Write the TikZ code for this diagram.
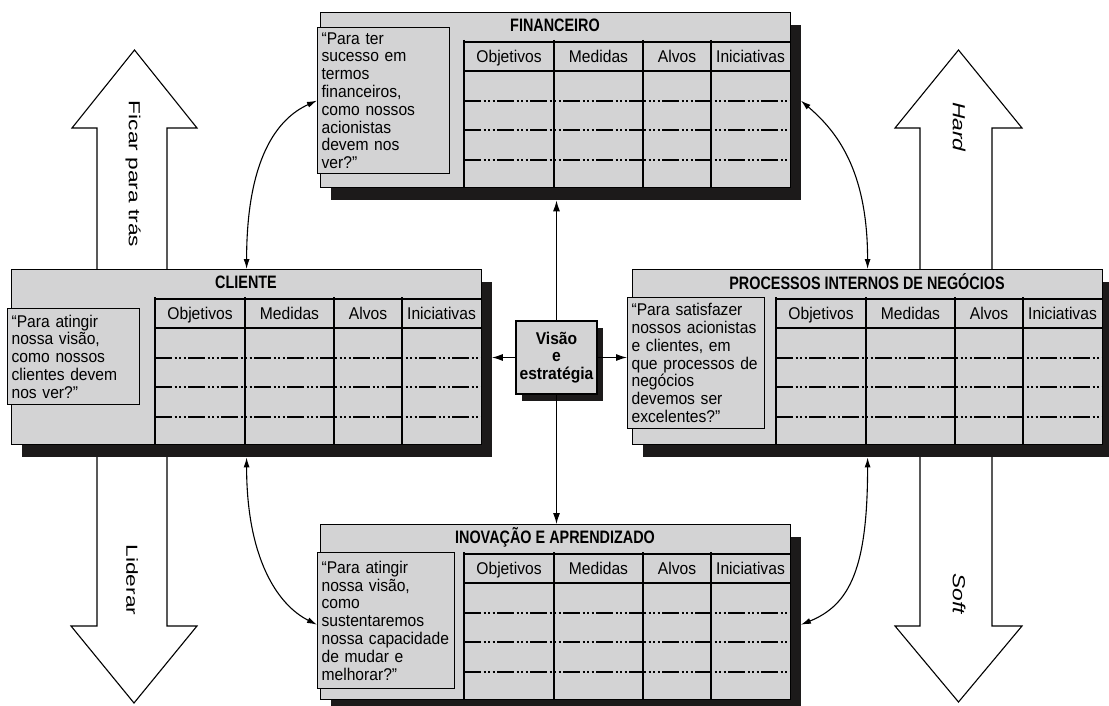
\documentclass[tikz,border=0pt]{standalone}
\usepackage{fontspec}
\setmainfont{Liberation Sans}[FakeStretch=0.92]
\newfontfamily\titlefont{Liberation Sans}[FakeStretch=0.8]
\newfontfamily\sidefont{Liberation Sans}[FakeStretch=1.42]
\newfontfamily\slantfont{Liberation Sans}[FakeStretch=1.3]
\usetikzlibrary{arrows.meta,calc}

\definecolor{panelgray}{RGB}{211,211,212}
\definecolor{shadowink}{RGB}{28,26,26}

\tikzset{
  panelbox/.style={draw, line width=1.2pt, fill=panelgray, minimum width=470,
    minimum height=175, inner sep=0pt, anchor=north west},
  panelshadow/.style={fill=shadowink, minimum width=470, minimum height=175,
    inner sep=0pt, anchor=north west},
  titletext/.style={font=\titlefont\fontsize{18}{20}\selectfont\bfseries, inner sep=0pt},
  bodytext/.style={font=\fontsize{17}{17.8}\selectfont},
  headtext/.style={bodytext, inner sep=0pt, anchor=base},
  question/.style={bodytext, draw, line width=1.2pt, fill=panelgray,
    anchor=north west, align=left, inner xsep=4pt, inner ysep=0pt,
    execute at begin node={\hyphenpenalty=10000\exhyphenpenalty=10000}},
  tablerule/.style={line width=1.2pt},
  rowrule/.style={line width=1.1pt,
    dash pattern=on 17pt off 2.5pt on 2pt off 2.5pt on 2pt off 2.5pt on 2pt off 2.5pt},
  blockarrow/.style={draw, line width=1.1pt, fill=white, line join=miter},
  sidetext/.style={font=\sidefont\fontsize{16}{20}\selectfont, rotate=-90, inner sep=0pt},
  slanttext/.style={font=\slantfont\itshape\fontsize{17.5}{20}\selectfont, rotate=-90, inner sep=0pt},
  link/.style={line width=1.1pt, -{Latex[length=11pt,width=7pt]}},
  duallink/.style={line width=1.1pt,
    {Latex[length=10pt,width=6pt]}-{Latex[length=10pt,width=6pt]}},
}

% One perspective panel: shadow, frame, title and the four-column table.
% #1 name, #2 left edge, #3 top edge, #4 title
\newcommand\bscpanel[4]{%
  \node[panelshadow] (#1-sh) at ({#2+10.5},{#3+13}) {};
  \node[panelbox] (#1) at (#2,#3) {};
  \node[titletext] (#1-title) at ({#2+235},{#3+13}) {#4};
  \begin{scope}[shift={(#2,#3)}]
    \draw[tablerule] (144,30) -- (470,30) (144,59) -- (470,59);
    \foreach \yy in {89,118,148} \draw[rowrule] (144,\yy) -- (470,\yy);
    \foreach \xx in {144,234,323,391} \draw[tablerule] (\xx,28) -- (\xx,175);
    \node[headtext] (#1-h1) at (189,50.5) {Objetivos};
    \node[headtext] (#1-h2) at (278.5,50.5) {Medidas};
    \node[headtext] (#1-h3) at (357,50.5) {Alvos};
    \node[headtext] (#1-h4) at (430.5,50.5) {Iniciativas};
  \end{scope}}

\begin{document}
\begin{tikzpicture}[x=1pt,y=-1pt]
  \fill[white] (0,0) rectangle (1109,706);
  \useasboundingbox (0,0) rectangle (1109,706);

  % big direction arrows at the sides
  \draw[blockarrow] (97,275) -- (97,128) -- (72,128) -- (134.5,50) -- (197,128) -- (167,128) -- (167,275);
  \draw[blockarrow] (97,450) -- (97,626) -- (71,626) -- (134,703) -- (197,626) -- (167,626) -- (167,450);
  \draw[blockarrow] (920,275) -- (920,128) -- (895,128) -- (958.5,50) -- (1022,128) -- (992,128) -- (992,275);
  \draw[blockarrow] (920,450) -- (920,626) -- (895,626) -- (958.5,702) -- (1022,626) -- (992,626) -- (992,450);
  \node[sidetext] (ficar) at (133,174) {Ficar para trás};
  \node[sidetext] (liderar) at (132,580) {Liderar};
  \node[slanttext] (hard) at (959,127) {Hard};
  \node[slanttext] (soft) at (959,594) {Soft};

  % the four perspectives
  \bscpanel{fin}{320}{12}{FINANCEIRO}
  \bscpanel{cli}{11}{269}{CLIENTE}
  \bscpanel{prc}{632}{269}{PROCESSOS INTERNOS DE NEGÓCIOS}
  \bscpanel{ino}{320}{524}{INOVAÇÃO E APRENDIZADO}

  \node[question, text width=124, minimum width=130, minimum height=146] (fin-q) at (317,27)
    {“Para ter\\sucesso em\\termos\\financeiros,\\como nossos\\acionistas\\devem nos\\ver?”};
  \node[question, text width=124, minimum width=130, minimum height=96] (cli-q) at (7,308)
    {“Para atingir\\nossa visão,\\como nossos\\clientes devem\\nos ver?”};
  \node[question, text width=129, minimum width=135, minimum height=131] (prc-q) at (627,297)
    {“Para satisfazer\\nossos acionistas\\e clientes, em\\que processos de\\negócios\\devemos ser\\excelentes?”};
  \node[question, text width=129, minimum width=135, minimum height=136] (ino-q) at (317,552)
    {“Para atingir\\nossa visão,\\como\\sustentaremos\\nossa capacidade\\de mudar e\\melhorar?”};

  % vision and strategy in the middle
  \node[fill=shadowink, minimum width=81, minimum height=73, inner sep=0pt] (vis-sh) at (562,364) {};
  \node[draw, line width=1.2pt, fill=panelgray, minimum width=81, minimum height=73,
        inner sep=0pt, align=center, font=\fontsize{17}{17.8}\selectfont\bfseries] (vis) at (556.5,357.5)
    {Visão\\e\\estratégia};

  % links from the centre
  \draw[link] (vis.north) -- (vis.north |- fin-sh.south);
  \draw[link] (vis.south) -- (vis.south |- ino.north);
  \draw[link] (vis.west) -- (vis.west -| cli-sh.east);
  \draw[link] (vis.east) -- (vis.east -| prc-q.west);

  % links around the ring
  \coordinate (finR) at (fin-sh.east |- fin-q.west);
  \coordinate (cliB) at (cli.south |- cli-sh.south);
  \coordinate (prcB) at (prc.south |- prc-sh.south);
  \coordinate (inoL) at (ino-q.west |- ino-sh.east);
  \draw[duallink] (cli.north) .. controls ($(cli.north)+(0,-110)$) and ($(fin-q.west)+(-40,18)$) .. (fin-q.west);
  \draw[duallink] (finR) .. controls ($(finR)+(35,30)$) and ($(prc.north)+(0,-100)$) .. (prc.north);
  \draw[duallink] (cliB) .. controls ($(cliB)+(0,100)$) and ($(inoL)+(-40,-20)$) .. (inoL);
  \draw[duallink] (prcB) .. controls ($(prcB)+(0,110)$) and ($(ino-sh.east)+(49.5,-20)$) .. (ino-sh.east);
\end{tikzpicture}
\end{document}
